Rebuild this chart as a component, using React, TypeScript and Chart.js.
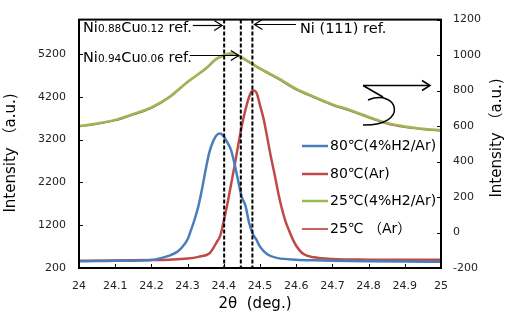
import React, { useEffect, useRef } from "react";
import { Chart, registerables } from "chart.js";

Chart.register(...registerables);

// ---------- data ----------
const xTicks = [24, 24.1, 24.2, 24.3, 24.4, 24.5, 24.6, 24.7, 24.8, 24.9, 25];
const leftTicks = [200, 1200, 2200, 3200, 4200, 5200];
const rightTicks = [-200, 0, 200, 400, 600, 800, 1000, 1200];

const seriesLabels = ["80℃(4%H2/Ar)", "80℃(Ar)", "25℃(4%H2/Ar)", "25℃ （Ar）"];

// 80℃ (4%H2/Ar) – left axis
const blueX = [24.0, 24.05, 24.1, 24.15, 24.2, 24.225, 24.25, 24.27, 24.28, 24.29, 24.3, 24.31, 24.32, 24.33, 24.34, 24.35, 24.36, 24.37, 24.38, 24.39, 24.4, 24.41, 24.42, 24.43, 24.44, 24.45, 24.46, 24.47, 24.48, 24.49, 24.5, 24.52, 24.55, 24.6, 24.65, 24.7, 24.8, 24.9, 25.0];
const blueY = [360, 362, 368, 372, 385, 430, 490, 570, 640, 740, 870, 1100, 1350, 1650, 2050, 2500, 2900, 3150, 3300, 3340, 3270, 3130, 2950, 2620, 2220, 1850, 1650, 1250, 1000, 860, 700, 520, 430, 395, 380, 370, 358, 350, 345];

// 80℃ (Ar) – left axis
const redX = [24.0, 24.1, 24.2, 24.25, 24.3, 24.33, 24.36, 24.37, 24.38, 24.39, 24.4, 24.41, 24.42, 24.43, 24.44, 24.45, 24.46, 24.47, 24.48, 24.49, 24.5, 24.51, 24.52, 24.53, 24.54, 24.55, 24.56, 24.57, 24.58, 24.59, 24.6, 24.62, 24.65, 24.7, 24.8, 24.9, 25.0];
const redY = [370, 375, 385, 395, 420, 460, 540, 650, 800, 950, 1300, 1700, 2150, 2600, 3080, 3530, 3900, 4200, 4350, 4300, 4000, 3680, 3250, 2800, 2400, 1970, 1600, 1300, 1080, 880, 720, 525, 450, 410, 395, 390, 390];

// 25℃ – right axis
const roomX = [24.0, 24.05, 24.1, 24.15, 24.2, 24.25, 24.3, 24.35, 24.38, 24.4, 24.42, 24.44, 24.46, 24.48, 24.5, 24.55, 24.6, 24.65, 24.7, 24.75, 24.8, 24.85, 24.9, 24.95, 25.0];
const greenY = [600, 615, 635, 668, 705, 765, 850, 925, 980, 1000, 1010, 998, 975, 950, 925, 870, 810, 765, 722, 690, 652, 618, 598, 585, 576];
const redRoomY = [596, 610, 630, 663, 700, 760, 845, 920, 975, 996, 1006, 993, 970, 945, 920, 864, 804, 759, 716, 684, 646, 612, 592, 580, 571];

// reference peak positions (2θ)
const refLines = [24.401, 24.447, 24.479];

const COLORS = ["#4A7EBB", "#BE4B48", "#98B954", "#C0504D"];
const WIDTHS = [2.5, 2.5, 2.5, 1.3];

const FONT = '"DejaVu Sans", "Noto Sans CJK JP", sans-serif';

function arrowHead(ctx: CanvasRenderingContext2D, x: number, y: number, dir: number) {
  ctx.beginPath();
  ctx.moveTo(x - dir * 8, y - 5);
  ctx.lineTo(x, y);
  ctx.lineTo(x - dir * 8, y + 5);
  ctx.stroke();
}

function richText(ctx: CanvasRenderingContext2D, parts: [string, number][], x: number, y: number) {
  let cx = x;
  for (const [t, s] of parts) {
    ctx.font = `${s}px ${FONT}`;
    ctx.fillText(t, cx, y);
    cx += ctx.measureText(t).width;
  }
  return cx;
}

const decoPlugin = {
  id: "deco",
  afterDatasetsDraw(chart: any) {
    const { ctx, chartArea: a, scales } = chart;
    const sx = scales.x, sy = scales.y, sr = scales.y1;
    ctx.save();
    ctx.strokeStyle = "#000";
    ctx.fillStyle = "#000";

    // dashed reference lines
    ctx.lineWidth = 2;
    ctx.setLineDash([4, 2]);
    const refPx = refLines.map((v) => sx.getPixelForValue(v));
    refPx.forEach((px: number) => {
      ctx.beginPath();
      ctx.moveTo(px, a.top);
      ctx.lineTo(px, a.bottom);
      ctx.stroke();
    });
    ctx.setLineDash([]);

    // frame
    ctx.lineWidth = 2;
    ctx.strokeRect(a.left, a.top, a.right - a.left, a.bottom - a.top);

    // inward ticks
    ctx.lineWidth = 1;
    ctx.beginPath();
    xTicks.forEach((v) => {
      const px = Math.round(sx.getPixelForValue(v)) + 0.5;
      ctx.moveTo(px, a.bottom);
      ctx.lineTo(px, a.bottom - 4);
    });
    leftTicks.forEach((v) => {
      const py = Math.round(sy.getPixelForValue(v)) + 0.5;
      ctx.moveTo(a.left, py);
      ctx.lineTo(a.left + 4, py);
    });
    rightTicks.forEach((v) => {
      const py = Math.round(sr.getPixelForValue(v)) + 0.5;
      ctx.moveTo(a.right - 4, py);
      ctx.lineTo(a.right, py);
    });
    ctx.stroke();

    // annotations
    ctx.textBaseline = "alphabetic";
    ctx.textAlign = "left";
    ctx.lineWidth = 1.2;
    const e1 = richText(ctx, [["Ni", 14.5], ["0.88", 10.5], ["Cu", 14.5], ["0.12", 10.5], [" ref.", 14.5]], 83, 32);
    ctx.beginPath();
    ctx.moveTo(e1 + 1, 25.5);
    ctx.lineTo(refPx[0] - 2, 25.5);
    ctx.stroke();
    arrowHead(ctx, refPx[0] - 2, 25.5, 1);

    const e2 = richText(ctx, [["Ni", 14.5], ["0.94", 10.5], ["Cu", 14.5], ["0.06", 10.5], [" ref.", 14.5]], 83, 62);
    ctx.beginPath();
    ctx.moveTo(e2 - 2, 55.5);
    ctx.lineTo(refPx[1] - 2, 55.5);
    ctx.stroke();
    arrowHead(ctx, refPx[1] - 2, 55.5, 1);

    richText(ctx, [["Ni (111) ref.", 14.5]], 300, 33);
    ctx.beginPath();
    ctx.moveTo(296, 24.5);
    ctx.lineTo(refPx[2] + 2, 24.5);
    ctx.stroke();
    arrowHead(ctx, refPx[2] + 2, 24.5, -1);

    // right-axis pointer
    ctx.lineWidth = 1.5;
    ctx.beginPath();
    ctx.moveTo(363, 85.5);
    ctx.lineTo(430, 85.5);
    ctx.moveTo(363, 85.5);
    ctx.lineTo(383, 97);
    ctx.moveTo(368, 100);
    ctx.bezierCurveTo(398, 88, 410, 126, 363, 125);
    ctx.stroke();
    arrowHead(ctx, 430, 85.5, 1);

    // legend
    const rows = [146, 174, 201, 229];
    rows.forEach((ry, i) => {
      ctx.strokeStyle = COLORS[i];
      ctx.lineWidth = WIDTHS[i] < 2 ? 1.8 : 2.5;
      ctx.beginPath();
      ctx.moveTo(302, ry);
      ctx.lineTo(328, ry);
      ctx.stroke();
      ctx.fillStyle = "#000";
      ctx.font = `14px ${FONT}`;
      ctx.textBaseline = "middle";
      ctx.fillText(seriesLabels[i], 330, ry);
    });

    // axis titles
    ctx.font = `15px ${FONT}`;
    ctx.textAlign = "center";
    ctx.textBaseline = "middle";
    ctx.fillText("2θ  (deg.)", 255, 304);
    ctx.save();
    ctx.translate(11, 153);
    ctx.rotate(-Math.PI / 2);
    ctx.fillText("Intensity （a.u.)", 0, 0);
    ctx.restore();
    ctx.save();
    ctx.translate(497, 138);
    ctx.rotate(-Math.PI / 2);
    ctx.fillText("Intensity （a.u.)", 0, 0);
    ctx.restore();

    ctx.restore();
  },
};

export default function App() {
  const ref = useRef<HTMLCanvasElement | null>(null);
  useEffect(() => {
    document.body.style.margin = "0";
    const canvas = ref.current;
    if (!canvas) return;
    const mk = (xs: number[], ys: number[]) => xs.map((x, i) => ({ x, y: ys[i] }));
    const tickFont = { family: FONT, size: 11 };
    const plain = (v: any) => String(Number(Number(v).toFixed(2)));
    const chart = new Chart(canvas, {
      type: "line",
      data: {
        datasets: [
          { label: seriesLabels[0], data: mk(blueX, blueY), yAxisID: "y", borderColor: COLORS[0], borderWidth: WIDTHS[0] },
          { label: seriesLabels[1], data: mk(redX, redY), yAxisID: "y", borderColor: COLORS[1], borderWidth: WIDTHS[1] },
          { label: seriesLabels[2], data: mk(roomX, greenY), yAxisID: "y1", borderColor: COLORS[2], borderWidth: WIDTHS[2] },
          { label: seriesLabels[3], data: mk(roomX, redRoomY), yAxisID: "y1", borderColor: COLORS[3], borderWidth: WIDTHS[3] },
        ],
      },
      options: {
        responsive: false,
        animation: false,
        devicePixelRatio: 1,
        layout: { padding: { top: 6, left: 0, right: 0, bottom: 0 } },
        elements: {
          point: { radius: 0 },
          line: { cubicInterpolationMode: "monotone", fill: false },
        },
        plugins: { legend: { display: false }, tooltip: { enabled: false } },
        scales: {
          x: {
            type: "linear",
            min: 24,
            max: 25,
            afterBuildTicks: (s: any) => {
              s.ticks = xTicks.map((v) => ({ value: v }));
            },
            afterFit: (s: any) => {
              s.height = 49;
            },
            grid: { display: false, drawTicks: false },
            border: { display: false },
            ticks: { padding: 12, font: tickFont, color: "#222", maxRotation: 0, autoSkip: false, callback: plain },
          },
          y: {
            type: "linear",
            position: "left",
            min: 200,
            max: 6000,
            afterBuildTicks: (s: any) => {
              s.ticks = leftTicks.map((v) => ({ value: v }));
            },
            afterFit: (s: any) => {
              s.width = 79;
            },
            grid: { display: false, drawTicks: false },
            border: { display: false },
            ticks: { padding: 13, font: tickFont, color: "#222", callback: plain },
          },
          y1: {
            type: "linear",
            position: "right",
            min: -200,
            max: 1200,
            afterBuildTicks: (s: any) => {
              s.ticks = rightTicks.map((v) => ({ value: v }));
            },
            afterFit: (s: any) => {
              s.width = 64;
            },
            grid: { display: false, drawTicks: false },
            border: { display: false },
            ticks: { padding: 12, font: tickFont, color: "#222", callback: plain },
          },
        },
      },
      plugins: [decoPlugin],
    } as any);
    return () => chart.destroy();
  }, []);
  return (
    <div style={{ position: "absolute", left: 0, top: 0, width: 505, height: 317, background: "#fff" }}>
      <canvas ref={ref} width={505} height={317} style={{ display: "block" }} />
    </div>
  );
}
